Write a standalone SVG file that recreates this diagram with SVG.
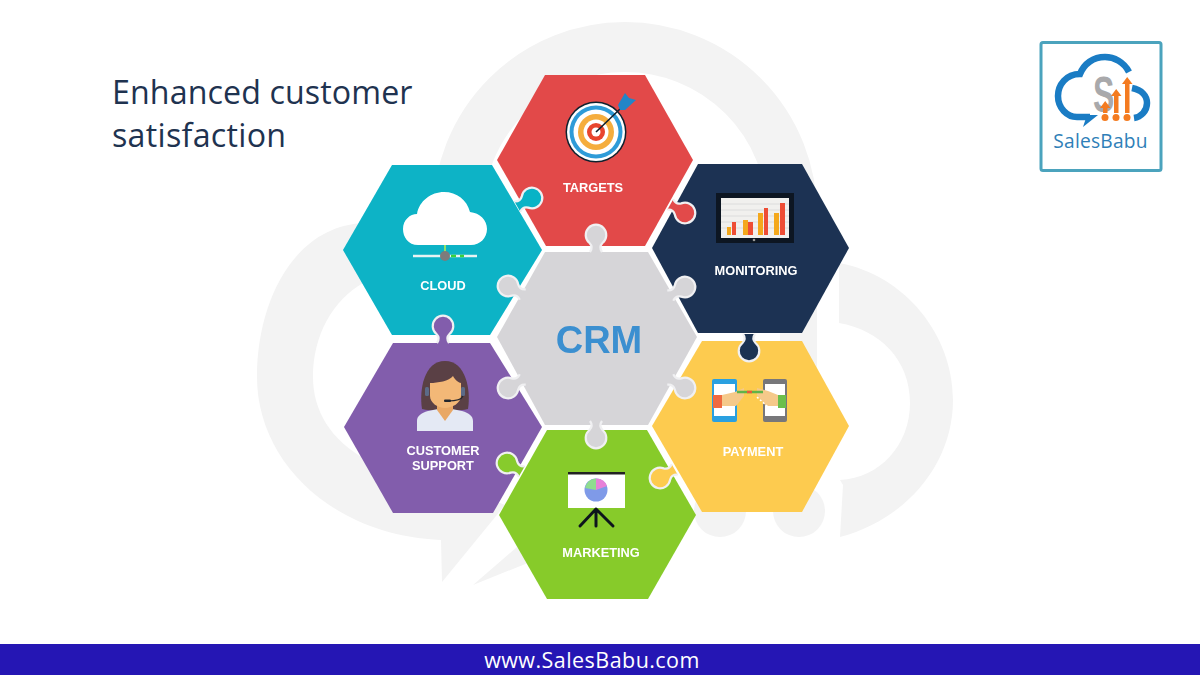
<svg xmlns="http://www.w3.org/2000/svg" width="1200" height="675" viewBox="0 0 1200 675">
<style>
.wm{fill:none;stroke:#f3f3f3;stroke-width:50}
.wf{fill:#f3f3f3}
.hex{stroke:none}
.lbl{font-family:"Liberation Sans",Arial,sans-serif;font-weight:700;font-size:12.8px;fill:#fff;text-anchor:middle}
.ttl{font-family:"Open Sans","Noto Sans",sans-serif;font-size:32.2px;fill:#1f3350}
.tab{stroke:#f0f0f2;stroke-width:2.2}
.node{filter:url(#soft)}
</style>
<defs>
<path id="tab" d="M-17,-6Q-12,-2.500 -8,-6.500A10.300,10.300 0 1 1 -8,6.500Q-12,2.500 -17,6"/>
<filter id="soft" x="-5%" y="-5%" width="110%" height="110%"><feGaussianBlur stdDeviation="0.35"/></filter>
</defs>
<rect width="1200" height="675" fill="#fff"/>
<g id="watermark">
<path class="wm" d="M458,214A167,167 0 0 1 792,214"/>
<path class="wf" d="M365,223C295,225 257,300 257,377C257,460 330,535 441,540L442,582L505,505L420,470L367,460C330,440 313,410 313,377C313,335 333,300 363,283L400,260Z"/>
<polygon class="wf" points="473,585 517,547 540,520 560,550"/>
<path class="wf" d="M839,263C905,275 953,335 953,400C953,465 905,520 840,537L843,485L840,480C880,478 910,445 910,403C910,360 880,330 839,323Z"/>
<rect class="wf" x="780" y="300" width="37" height="70"/>
<circle class="wf" cx="799" cy="511" r="26"/>
<circle class="wf" cx="720" cy="511" r="26"/>
</g>
<g id="node-targets" class="node">
<polygon class="hex" fill="#e24a4a" points="545,75 645,75 693,160 645,246 546,246 497,160"/>
<g id="target-icon">
<circle cx="596" cy="132" r="30.500" fill="#10202e"/><circle cx="596" cy="132" r="29" fill="#fff"/>
<circle cx="596" cy="132" r="26.500" fill="#2f9bd8"/><circle cx="596" cy="132" r="22.500" fill="#fff"/>
<circle cx="596" cy="132" r="18" fill="#f5ad3c"/><circle cx="596" cy="132" r="12.500" fill="#fff"/>
<circle cx="596" cy="132" r="9" fill="#e8452f"/><circle cx="596" cy="132" r="4.500" fill="#fff"/>
<path d="M596,132L620,109" stroke="#10202e" stroke-width="1.600"/>
<path d="M618,105L625,93 629,98 636,100 625,110 620,110Z" fill="#2085c8"/>
</g>
<text class="lbl" x="593" y="192">TARGETS</text>
</g>
<g id="node-monitoring" class="node">
<polygon class="hex" fill="#1b3252" points="698,164 802,164 849,248 802,333 698,333 652,248"/>
<rect x="716" y="193" width="78" height="50" fill="#0d1620"/>
<rect x="721" y="198" width="68" height="40" fill="#f1f0ee"/>
<path d="M721,204H789M721,210H789M721,216H789M721,222H789M721,228H789" stroke="#dcdcdc" stroke-width="1"/>
<g fill="#f4a81c"><rect x="727" y="227" width="4" height="8"/><rect x="743" y="220" width="5" height="15"/><rect x="758" y="213" width="5" height="22"/><rect x="774" y="213" width="5" height="22"/></g>
<g fill="#ee4e36"><rect x="732" y="222" width="4" height="13"/><rect x="748" y="222" width="5" height="13"/><rect x="764" y="208" width="4" height="27"/><rect x="780" y="203" width="5" height="32"/></g>
<circle cx="754" cy="240" r="1.300" fill="#999"/>
<text class="lbl" x="756" y="275">MONITORING</text>
</g>
<g id="node-cloud" class="node">
<polygon class="hex" fill="#08b3c6" points="392,165 492,165 542,250 490,335 392,335 343,250"/>
<path d="M418,245C408,245 403,237 403,229C403,220 410,214 417,214C419,201 431,192 444,192C457,192 467,200 470,212C480,213 487,220 487,229C487,238 480,245 471,245Z" fill="#fff"/>
<path d="M413,256H477" stroke="#e7f3f3" stroke-width="2.500"/>
<path d="M445,245V252" stroke="#8fe06a" stroke-width="2"/>
<path d="M451,256H456M460,256H464" stroke="#3ad13a" stroke-width="2.500"/>
<circle cx="445" cy="256" r="5" fill="#7c7c7c"/>
<text class="lbl" x="443" y="290">CLOUD</text>
</g>
<g id="node-support" class="node">
<polygon class="hex" fill="#825dac" points="393,343 490,343 542,427 493,513 393,513 344,427"/>
<path d="M422,409C419,390 424,361 445,361C466,361 471,390 468,409C462,411 428,411 422,409Z" fill="#5a3f44"/>
<path d="M417,431V421C417,416 421,413 428,411L438,409 445,420 452,409 462,411C469,413 473,416 473,421V431Z" fill="#e4e9f4"/>
<path d="M437,400V410L445,421 453,410V400Z" fill="#e9a866"/>
<path d="M430,383C438,383 449,381 453,376C455,380 459,383 461,383V396C461,403 452,408 445,408C438,408 430,403 430,396Z" fill="#f3b877"/>
<rect x="425" y="387" width="4" height="9" rx="1.500" fill="#5b6b88"/><rect x="461" y="387" width="4" height="9" rx="1.500" fill="#5b6b88"/>
<path d="M463,396Q461,401 448,401" stroke="#24272e" stroke-width="1.200" fill="none"/>
<rect x="444" y="399.500" width="7" height="2.500" rx="1" fill="#24272e"/>
<text class="lbl" x="443" y="455">CUSTOMER</text>
<text class="lbl" x="443" y="470">SUPPORT</text>
</g>
<g id="node-payment" class="node">
<polygon class="hex" fill="#fdcb4f" points="702,341 802,341 849,426 802,512 702,512 652,426"/>
<rect x="712" y="379" width="25" height="43" rx="2" fill="#2aa0e0"/>
<rect x="714" y="384" width="21" height="32" fill="#fff"/>
<rect x="713" y="395" width="9" height="13" fill="#ef6a3f"/>
<rect x="763" y="379" width="24" height="43" rx="2" fill="#77777a"/>
<rect x="765" y="384" width="20" height="32" fill="#fff"/>
<rect x="778" y="395" width="8" height="13" fill="#6cbf4b"/>
<path d="M722,395L735,392 744,388 744,396 736,406 722,406Z" fill="#f5c98a"/>
<path d="M778,395L768,391 757,388 757,395 766,406 778,406Z" fill="#f5c98a"/>
<path d="M737,392H763" stroke="#5fb34a" stroke-width="2.500"/>
<path d="M747,392H752" stroke="#e65a3c" stroke-width="2.500"/>
<path d="M757,397L768,407" stroke="#fff" stroke-width="1.500" stroke-dasharray="2 2"/>
<text class="lbl" x="753" y="456">PAYMENT</text>
</g>
<g id="node-marketing" class="node">
<polygon class="hex" fill="#87cb2c" points="547,430 647,430 696,515 648,599 547,599 499,515"/>
<rect x="568" y="472" width="57" height="36" fill="#fff"/>
<rect x="568" y="472" width="57" height="2.500" fill="#222"/>
<circle cx="596" cy="490" r="11.500" fill="#7f9ae8"/>
<path d="M596,490L585,488A11.500,11.500 0 0 1 596,478.500Z" fill="#8fdc8f"/>
<path d="M596,490V478.500A11.500,11.500 0 0 1 607,486Z" fill="#e780d8"/>
<path d="M596,509L580,526M596,509V526M596,509L613,526" stroke="#11171f" stroke-width="3" stroke-linecap="round"/>
<text class="lbl" x="601" y="557">MARKETING</text>
</g>
<g id="node-crm" class="node">
<polygon class="hex" fill="#d6d5d8" points="545,252 648,252 697,337 648,425 545,425 497,337"/>
<text x="599" y="352.500" font-family="Liberation Sans, Arial, sans-serif" font-weight="700" font-size="38" fill="#3a8fd0" text-anchor="middle">CRM</text>
</g>
<g id="connectors">
<use href="#tab" class="tab" fill="#08b3c6" transform="translate(532,198) rotate(-30)"/>
<use href="#tab" class="tab" fill="#e24a4a" transform="translate(685,213) rotate(30)"/>
<use href="#tab" class="tab" fill="#d6d5d8" transform="translate(596,235) rotate(-90)"/>
<use href="#tab" class="tab" fill="#d6d5d8" transform="translate(508,286) rotate(210)"/>
<use href="#tab" class="tab" fill="#d6d5d8" transform="translate(685,287) rotate(-30)"/>
<use href="#tab" class="tab" fill="#825dac" transform="translate(443,326) rotate(-90)"/>
<use href="#tab" class="tab" fill="#1b3252" transform="translate(749,351) rotate(90)"/>
<use href="#tab" class="tab" fill="#d6d5d8" transform="translate(508,388) rotate(150)"/>
<use href="#tab" class="tab" fill="#d6d5d8" transform="translate(685,388) rotate(30)"/>
<use href="#tab" class="tab" fill="#d6d5d8" transform="translate(596,438) rotate(90)"/>
<use href="#tab" class="tab" fill="#87cb2c" transform="translate(507,463) rotate(210)"/>
<use href="#tab" class="tab" fill="#fdcb4f" transform="translate(660,478) rotate(150)"/>
</g>
<g id="title">
<text class="ttl" x="112" y="104" letter-spacing=".1">Enhanced customer</text>
<text class="ttl" x="112" y="147" letter-spacing=".28">satisfaction</text>
</g>
<g id="logo">
<rect x="1041" y="42.500" width="120" height="128" rx="2" fill="#fff" stroke="#4ba3bd" stroke-width="3"/>
<path d="M1129,72C1124,62 1114,57 1105,57C1093,57 1084,64 1080,74C1066,74 1058,85 1058,96C1058,108 1067,117 1077,117H1090" fill="none" stroke="#1a7cc4" stroke-width="6.500"/>
<path d="M1132,88C1142,90 1147,96 1147,103C1147,111 1141,117 1134,118" fill="none" stroke="#1a7cc4" stroke-width="6.500"/>
<path d="M1083,127L1098,115H1087Z" fill="#1a7cc4"/>
<text x="0" y="0" transform="translate(1093,112) scale(0.64,1)" font-family="Liberation Sans, Arial, sans-serif" font-weight="700" font-size="50" fill="#a9a9ab">S</text>
<g fill="#f47b20">
<rect x="1103" y="107" width="4.500" height="6"/><rect x="1114" y="95" width="4.500" height="18"/><rect x="1125" y="83" width="4.500" height="30"/>
<path d="M1100,108L1105.200,101 1110.500,108ZM1111,96L1116.200,89 1121.500,96ZM1122,84L1127.200,77 1132.500,84Z"/>
<circle cx="1105" cy="117.500" r="3.500"/><circle cx="1116" cy="117.500" r="3.500"/><circle cx="1127" cy="117.500" r="3.500"/>
</g>
<text x="1100.500" y="148" font-family="Open Sans, sans-serif" font-size="19.200" letter-spacing=".2" fill="#2f7fb8" text-anchor="middle">SalesBabu</text>
</g>
<g id="footer">
<rect x="0" y="644" width="1200" height="31" fill="#2516b4"/>
<text x="592" y="668" font-family="Open Sans, sans-serif" font-size="21.500" letter-spacing=".45" fill="#fff" text-anchor="middle">www.SalesBabu.com</text>
</g>
</svg>
